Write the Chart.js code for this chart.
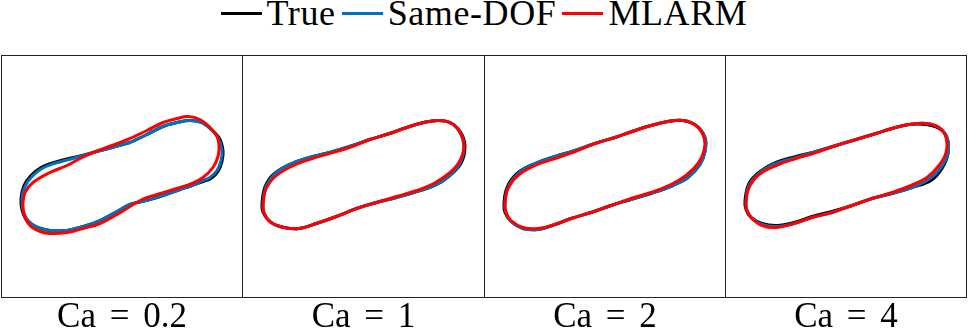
<!DOCTYPE html>
<html>
<head>
<meta charset="utf-8">
<script src="https://cdn.jsdelivr.net/npm/chart.js@4/dist/chart.umd.min.js"></script>
<style>
  html, body { margin: 0; padding: 0; background: #fff; }
  body { width: 968px; height: 331px; position: relative; overflow: hidden; font-family: "Liberation Serif", "Times New Roman", "DejaVu Serif", serif; }
  #legend { position: absolute; top: -4px; left: 0; width: 968px; display: flex; justify-content: center; align-items: center; font-size: 36px; line-height: 35px; letter-spacing: 0.6px; color: #000; }
  #legend .item { display: flex; align-items: center; margin: 0 3px; }
  #legend .sw { width: 41px; height: 3px; margin-right: 5px; position: relative; top: 0px; }
  .panel { position: absolute; top: 55px; }
  .label { position: absolute; top: 298px; font-size: 35px; line-height: 35px; text-align: center; white-space: pre; word-spacing: 5px; color: #000; }
</style>
</head>
<body>
<div id="legend"></div>
<script>
// ---- data (panel units, origin at panel centre, y up) ----
const caValues = [0.2, 1, 2, 4];
const seriesNames = ['True', 'Same-DOF', 'MLARM'];
const seriesColors = ['#000000', '#0072BD', '#FF0000'];

const ca02True = [[8,34],[25,42],[41,50],[55,54],[68,56],[80,54],[88,48],[97,39],[101,26],[100,15],[96,5],[89,-2],[81,-5],[70,-9],[58,-13],[35,-21],[20,-25],[8,-28],[-5,-35],[-22,-44],[-39,-50],[-55,-54],[-72,-54],[-84,-51],[-95,-44],[-100,-33],[-101,-22],[-98,-9],[-91,1],[-81,9],[-68,14],[-55,17.5],[-42,20.5],[-29,24],[-10,29],[8,34]];
const ca02Same = [[8,34],[25,42],[41,50],[55,54],[68,56],[80,54],[88,48],[96,39],[100,26],[99,16],[95,6],[88,-1],[81,-4],[70,-9],[58,-13],[35,-21],[20,-25],[8,-28],[-5,-35],[-22,-44],[-39,-50],[-55,-54],[-72,-54],[-84,-51],[-94,-44],[-99,-33],[-100,-22],[-97,-10],[-90,0],[-80,8],[-68,13],[-55,16.5],[-42,20],[-29,24],[-10,29],[8,34]];
const ca02Mlarm = [[8,38],[25,46],[41,54],[55,58],[66,60],[78,57],[88,49],[95,40],[97,31],[96,20],[91,9],[81,-1],[70,-7],[58,-11],[35,-18],[20,-23],[8,-30],[-5,-38],[-22,-47],[-39,-52],[-55,-56],[-72,-57],[-82,-55],[-92,-49],[-98,-38],[-99,-27],[-97,-16],[-89,-6],[-72,4],[-55,11],[-42,18],[-29,24],[-10,31],[8,38]];

const ca1True = [[6,37],[26,43],[43,49],[60,54],[75,56],[88,53],[98,42],[101,28],[97,13],[86,1],[71,-9],[53,-15],[33,-21],[13,-26],[-7,-32],[-27,-40],[-47,-47],[-64,-52],[-79,-51],[-92,-46],[-100,-36],[-101,-26],[-98,-10],[-90,2],[-74,12],[-54,19],[-34,24],[-14,30],[6,37]];
const ca1Same = [[6,37],[26,43],[43,49],[60,54],[75,56],[88,53],[97,42],[100,28],[96,13],[86,1],[71,-9],[53,-15],[33,-21],[13,-26],[-7,-32],[-27,-40],[-47,-47],[-64,-52],[-79,-51],[-92,-46],[-99,-36],[-100,-26],[-97,-10],[-89,2],[-74,12],[-54,19],[-34,24],[-14,30],[6,37]];
const ca1Mlarm = [[6,37],[26,43],[43,49],[60,54],[75,56],[88,53],[97,43],[100,29],[95,14],[85,3],[70,-7],[53,-14],[33,-20],[13,-26],[-7,-32],[-27,-40],[-47,-47],[-64,-52],[-79,-51],[-92,-46],[-99,-37],[-100,-27],[-97,-12],[-89,-1],[-74,9],[-54,17],[-34,23],[-14,29],[6,37]];

const ca2True = [[10,39],[30,46],[46,51],[63,55],[78,56],[91,51],[100,39],[100,25],[95,12],[83,-1],[68,-9],[46,-17],[26,-23],[6,-29],[-14,-36],[-34,-42],[-50,-48],[-67,-53],[-82,-52],[-94,-45],[-100,-36],[-101,-27],[-98,-11],[-88,3],[-70,13],[-50,20],[-30,26],[-10,33],[10,39]];
const ca2Same = [[10,39],[30,46],[46,51],[63,55],[78,56],[91,51],[100,39],[100,25],[95,12],[83,-1],[68,-9],[46,-17],[26,-23],[6,-29],[-14,-36],[-34,-42],[-50,-48],[-67,-53],[-82,-52],[-94,-45],[-99,-36],[-100,-27],[-97,-11],[-87,3],[-70,13],[-50,20],[-30,26],[-10,33],[10,39]];
const ca2Mlarm = [[10,39],[30,46],[46,51],[63,55],[78,56],[91,51],[99,39],[99,26],[93,13],[81,1],[66,-8],[46,-16],[26,-22],[6,-29],[-14,-36],[-34,-42],[-50,-48],[-67,-52],[-82,-51],[-94,-44],[-99,-36],[-100,-27],[-97,-12],[-87,1],[-70,11],[-50,18],[-30,25],[-10,33],[10,39]];

const ca4True = [[10,37],[30,43],[46,48],[63,52],[80,52],[93,48],[101,39],[102,23],[96,8],[85,-4],[66,-11],[46,-17],[26,-22],[6,-29],[-14,-35],[-34,-40],[-52,-46],[-69,-49],[-84,-47],[-95,-41],[-100,-33],[-101,-24],[-97,-7],[-86,5],[-70,14],[-50,20],[-30,25],[-10,31],[10,37]];
const ca4Same = [[10,37],[30,43],[46,48],[63,52],[80,53],[93,49],[101,39],[102,23],[95,9],[84,-2],[66,-11],[46,-17],[26,-22],[6,-29],[-14,-36],[-34,-41],[-52,-47],[-69,-50],[-84,-48],[-94,-42],[-99,-34],[-100,-25],[-97,-9],[-86,4],[-70,13],[-50,19],[-30,25],[-10,31],[10,37]];
const ca4Mlarm = [[10,37],[30,43],[46,48],[63,52],[80,53],[93,49],[100,39],[100,24],[93,11],[81,-1],[65,-9],[46,-16],[26,-22],[6,-29],[-14,-36],[-34,-41],[-52,-47],[-69,-51],[-84,-49],[-94,-42],[-99,-34],[-100,-26],[-97,-11],[-87,2],[-70,11],[-50,18],[-30,24],[-10,31],[10,37]];

const panelSeries = [
  [ca02True, ca02Same, ca02Mlarm],
  [ca1True, ca1Same, ca1Mlarm],
  [ca2True, ca2Same, ca2Mlarm],
  [ca4True, ca4Same, ca4Mlarm]
];

// ---- layout ----
const panelLefts = [1, 242, 484, 725];
const panelWidths = [242, 243, 242, 242];
const panelHeight = 243;

// legend
const legend = document.getElementById('legend');
seriesNames.forEach((name, i) => {
  const it = document.createElement('div');
  it.className = 'item';
  const sw = document.createElement('span');
  sw.className = 'sw';
  sw.style.background = seriesColors[i];
  const tx = document.createElement('span');
  tx.textContent = name;
  it.appendChild(sw); it.appendChild(tx);
  legend.appendChild(it);
});

const framePlugin = {
  id: 'frame',
  afterDraw(chart) {
    const ctx = chart.ctx;
    ctx.save();
    ctx.strokeStyle = '#222';
    ctx.lineWidth = 1;
    ctx.strokeRect(0.5, 0.5, chart.width - 1, chart.height - 1);
    ctx.restore();
  }
};

caValues.forEach((ca, p) => {
  const cv = document.createElement('canvas');
  cv.className = 'panel';
  cv.width = panelWidths[p];
  cv.height = panelHeight;
  cv.style.left = panelLefts[p] + 'px';
  cv.style.width = panelWidths[p] + 'px';
  cv.style.height = panelHeight + 'px';
  document.body.appendChild(cv);

  const lab = document.createElement('div');
  lab.className = 'label';
  lab.style.left = panelLefts[p] + 'px';
  lab.style.width = panelWidths[p] + 'px';
  lab.textContent = 'Ca = ' + ca;
  document.body.appendChild(lab);

  const datasets = panelSeries[p].map((pts, i) => ({
    label: seriesNames[i],
    data: pts.map(([x, y]) => ({ x, y })),
    showLine: true,
    borderColor: seriesColors[i],
    backgroundColor: seriesColors[i],
    borderWidth: 3,
    pointRadius: 0,
    tension: 0.4,
    fill: false,
    order: 3 - i
  }));

  new Chart(cv, {
    type: 'scatter',
    data: { datasets },
    options: {
      responsive: false,
      animation: false,
      devicePixelRatio: 1,
      layout: { padding: 0 },
      plugins: { legend: { display: false }, tooltip: { enabled: false } },
      scales: {
        x: { type: 'linear', min: -121, max: 121, display: false },
        y: { type: 'linear', min: -121.5, max: 121.5, display: false }
      }
    },
    plugins: [framePlugin]
  });
});
</script>
</body>
</html>
